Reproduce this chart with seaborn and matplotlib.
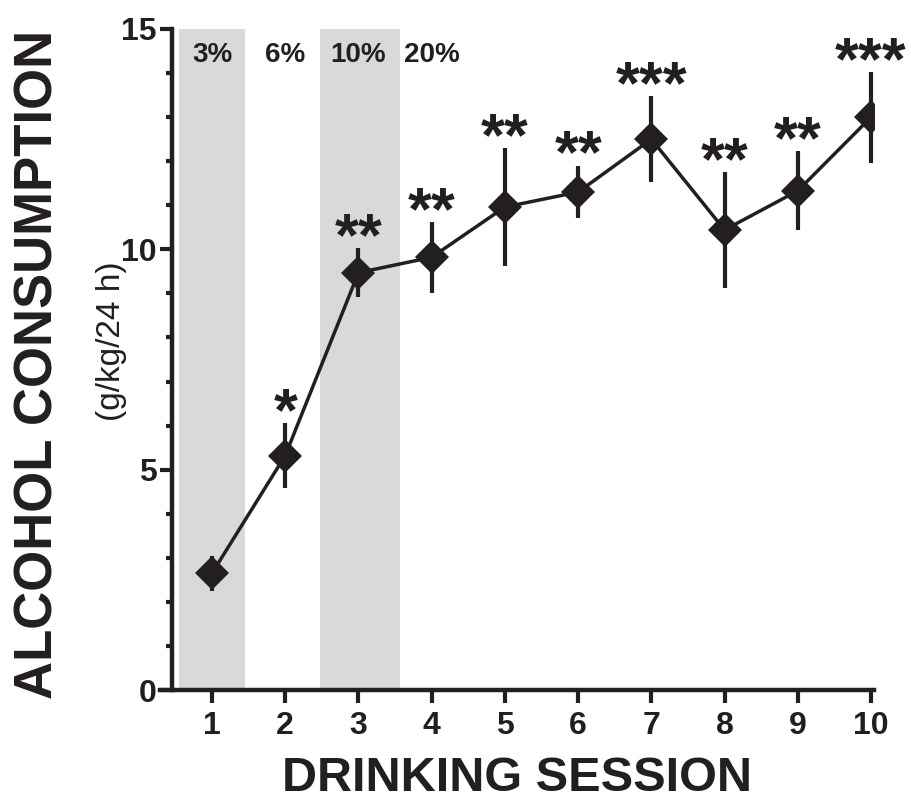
import matplotlib
matplotlib.use("Agg")
import matplotlib.pyplot as plt
from matplotlib.ticker import MultipleLocator
import seaborn as sns
import pandas as pd

# values (mean +/- SEM)
sessions = [1, 2, 3, 4, 5, 6, 7, 8, 9, 10]
consumption = [2.65, 5.32, 9.47, 9.82, 10.96, 11.30, 12.50, 10.44, 11.33, 13.00]
sem = [0.40, 0.74, 0.55, 0.80, 1.33, 0.60, 0.98, 1.31, 0.90, 1.03]
stars = ["", "*", "**", "**", "**", "**", "***", "**", "**", "***"]

# ethanol concentration used in the first sessions
conc_labels = ["3%", "6%", "10%", "20%"]
conc_sessions = [1, 2, 3, 4]
shaded_spans = [(0.55, 1.45), (2.47, 3.57)]

df = pd.DataFrame({"session": sessions, "consumption": consumption, "sem": sem})

INK = "#231f20"

sns.set_style("ticks")
plt.rcParams["font.family"] = ["Liberation Sans", "DejaVu Sans"]
plt.rcParams["font.weight"] = "bold"

fig = plt.figure(figsize=(9.12, 8.07), dpi=100)
ax = fig.add_axes([160 / 912, 117 / 807, (874 - 160) / 912, (778 - 117) / 807])

for lo, hi in shaded_spans:
    ax.axvspan(lo, hi, color="#d8d9db", lw=0, zorder=0)

ax.errorbar(df["session"], df["consumption"], yerr=df["sem"], fmt="none",
            ecolor=INK, elinewidth=3, capsize=0, zorder=2)
sns.lineplot(data=df, x="session", y="consumption", ax=ax, color=INK,
             lw=2.5, marker="D", markersize=17, markeredgewidth=0,
             zorder=3)

for x, y, e, s in zip(sessions, consumption, sem, stars):
    if s:
        ax.annotate(s, (x, y + e), xytext=(0, -5), textcoords="offset points",
                    ha="center", va="baseline", fontsize=44, color=INK,
                    annotation_clip=False)

for x, lab in zip(conc_sessions, conc_labels):
    ax.text(x, 14.4, lab, ha="center", va="center", fontsize=20,
            color=INK)

ax.set_xlim(0.29, 10.04)
ax.set_ylim(0, 15)
ax.spines["left"].set_position(("data", 0.45))
sns.despine(ax=ax)
for side in ["left", "bottom"]:
    ax.spines[side].set_linewidth(3.2)
    ax.spines[side].set_color(INK)

ax.set_xticks(sessions)
ax.yaxis.set_major_locator(MultipleLocator(5))
ax.yaxis.set_minor_locator(MultipleLocator(1))
ax.tick_params(axis="both", which="major", length=9, width=3,
               color=INK, labelsize=23, labelcolor=INK)
ax.tick_params(axis="x", pad=6)
ax.tick_params(axis="y", pad=2)
ax.tick_params(axis="y", which="minor", length=4, width=3, color=INK)

ax.set_xlabel("DRINKING SESSION", fontsize=35, fontweight="bold",
              color=INK, labelpad=11)
ax.set_ylabel("")

fig.text(39 / 912, 1 - 364 / 807, "ALCOHOL CONSUMPTION", rotation=90,
         ha="center", va="center", fontsize=38, color=INK)
fig.text(112 / 912, 1 - 341 / 807, "(g/kg/24 h)", rotation=90,
         ha="center", va="center", fontsize=24, fontweight="normal",
         color=INK)

fig.savefig("out.png", dpi=100)
